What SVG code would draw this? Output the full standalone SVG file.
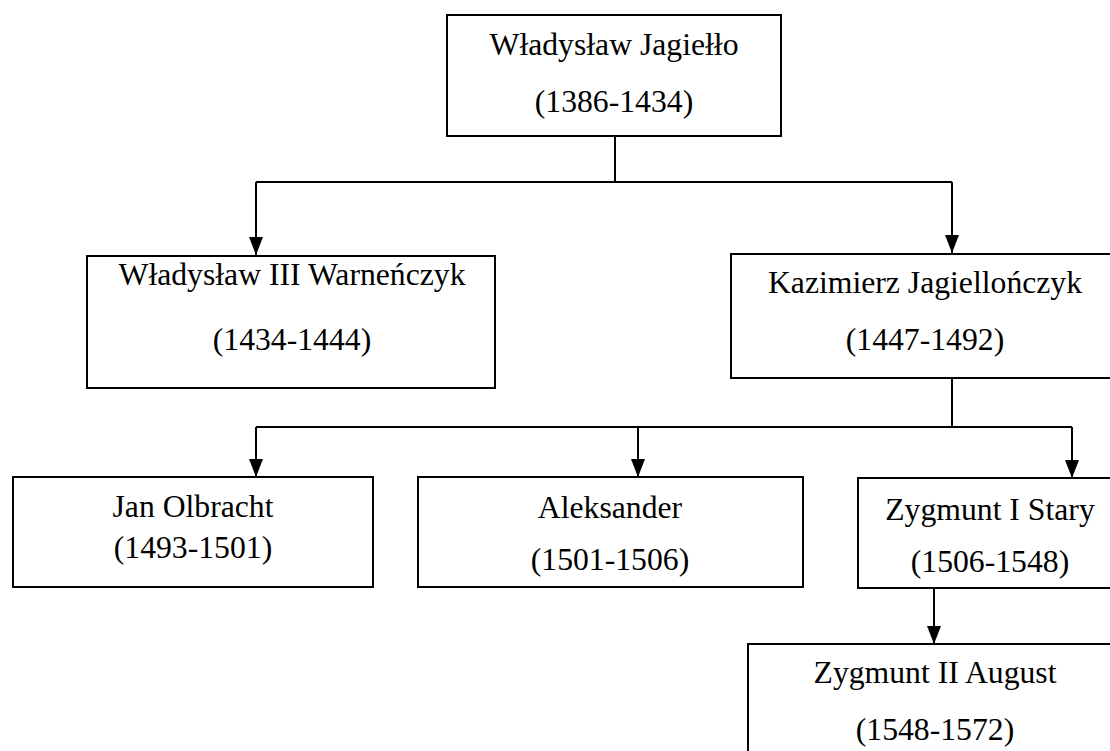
<svg xmlns="http://www.w3.org/2000/svg" width="1110" height="751" viewBox="0 0 1110 751">
  <style>
    .box { fill: #ffffff; stroke: #000000; stroke-width: 2; }
    .lbl { font-family: "Liberation Serif", "Times New Roman", serif; font-size: 31.7px; fill: #000000; text-anchor: middle; }
    .conn { fill: none; stroke: #000000; stroke-width: 2; }
  </style>
  <defs>
    <marker id="arrow" markerUnits="userSpaceOnUse" markerWidth="18" markerHeight="14" refX="18" refY="7" orient="auto">
      <path d="M0,0 L18,7 L0,14 z" fill="#000000"/>
    </marker>
  </defs>
  <rect width="1110" height="751" fill="#ffffff"/>

  <g id="connectors">
    <path class="conn" d="M615,136 V182"/>
    <path class="conn" d="M256,182 H952"/>
    <path class="conn" d="M256,182 V255" marker-end="url(#arrow)"/>
    <path class="conn" d="M952,182 V253" marker-end="url(#arrow)"/>
    <path class="conn" d="M952,378 V427"/>
    <path class="conn" d="M256,427 H1072"/>
    <path class="conn" d="M256,427 V477" marker-end="url(#arrow)"/>
    <path class="conn" d="M638,427 V477" marker-end="url(#arrow)"/>
    <path class="conn" d="M1072,427 V478" marker-end="url(#arrow)"/>
    <path class="conn" d="M934,588 V644" marker-end="url(#arrow)"/>
  </g>

  <g id="wladyslaw-jagiello">
    <rect class="box" x="447" y="15" width="334" height="121"/>
    <text class="lbl" x="614" y="55">Władysław Jagiełło</text>
    <text class="lbl" x="614" y="112">(1386-1434)</text>
  </g>

  <g id="wladyslaw-iii">
    <rect class="box" x="87" y="256" width="408" height="132"/>
    <text class="lbl" x="292" y="285">Władysław III Warneńczyk</text>
    <text class="lbl" x="292" y="350">(1434-1444)</text>
  </g>

  <g id="kazimierz">
    <rect class="box" x="731" y="254" width="390" height="124"/>
    <text class="lbl" x="925" y="293">Kazimierz Jagiellończyk</text>
    <text class="lbl" x="925" y="350">(1447-1492)</text>
  </g>

  <g id="jan-olbracht">
    <rect class="box" x="13" y="477" width="360" height="110"/>
    <text class="lbl" x="193" y="517">Jan Olbracht</text>
    <text class="lbl" x="193" y="558">(1493-1501)</text>
  </g>

  <g id="aleksander">
    <rect class="box" x="418" y="477" width="385" height="110"/>
    <text class="lbl" x="610" y="518">Aleksander</text>
    <text class="lbl" x="610" y="570">(1501-1506)</text>
  </g>

  <g id="zygmunt-i">
    <rect class="box" x="858" y="478" width="264" height="110"/>
    <text class="lbl" x="990" y="520">Zygmunt I Stary</text>
    <text class="lbl" x="990" y="572">(1506-1548)</text>
  </g>

  <g id="zygmunt-ii">
    <rect class="box" x="748" y="644" width="374" height="120"/>
    <text class="lbl" x="935" y="683">Zygmunt II August</text>
    <text class="lbl" x="935" y="740">(1548-1572)</text>
  </g>
</svg>
